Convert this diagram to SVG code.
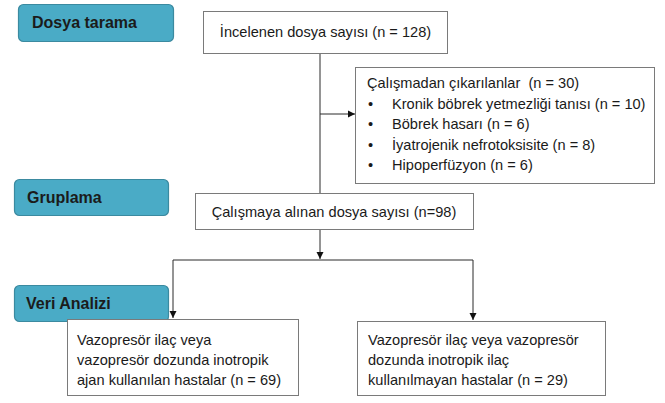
<svg xmlns="http://www.w3.org/2000/svg" width="665" height="403" viewBox="0 0 665 403">
<style>
.stage rect{fill:#4aabc6;stroke:#3b8aa0;stroke-width:1.2}
.stage text{font-family:"Liberation Sans",Arial,sans-serif;font-weight:bold;font-size:16px;fill:#1b1b1b}
.box rect{fill:#fff;stroke:#7a7a7a;stroke-width:1}
.box text{font-family:"Liberation Sans",Arial,sans-serif;font-size:14.6px;fill:#1a1a1a}
.conn path{fill:none;stroke:#2a2a2a;stroke-width:1}
</style>
<defs>
<marker id="ah" markerWidth="8" markerHeight="8" refX="7" refY="4" orient="auto" markerUnits="userSpaceOnUse">
<path d="M0,0.5 L7,4 L0,7.5 Z" fill="#111"/>
</marker>
</defs>
<rect width="665" height="403" fill="#fff"/>
<g class="conn">
<path d="M320,53 V193"/>
<path d="M320,114 H355" marker-end="url(#ah)"/>
<path d="M320,229 V259" marker-end="url(#ah)"/>
<path d="M173,260 H473"/>
<path d="M173,260 V318" marker-end="url(#ah)"/>
<path d="M473,260 V320" marker-end="url(#ah)"/>
</g>
<g id="stage-dosya" class="stage"><rect x="18.5" y="4.5" width="155" height="37" rx="5"/><text x="32" y="28">Dosya tarama</text></g>
<g id="stage-gruplama" class="stage"><rect x="14.5" y="179.5" width="154" height="36" rx="5"/><text x="27" y="203">Gruplama</text></g>
<g id="stage-veri" class="stage"><rect x="14.5" y="285.5" width="154" height="36" rx="5"/><text x="26" y="309">Veri Analizi</text></g>
<g id="box-incelenen" class="box"><rect x="203.5" y="11.5" width="244" height="42"/><text x="325.5" y="37" text-anchor="middle">İncelenen dosya sayısı (n = 128)</text></g>
<g id="box-cikarilan" class="box"><rect x="355.5" y="67.5" width="299" height="116"/>
<text x="367" y="88" xml:space="preserve">Çalışmadan çıkarılanlar  (n = 30)</text>
<text x="368" y="108.5">•</text><text x="392" y="108.5">Kronik böbrek yetmezliği tanısı (n = 10)</text>
<text x="368" y="129">•</text><text x="392" y="129">Böbrek hasarı (n = 6)</text>
<text x="368" y="149.5">•</text><text x="392" y="149.5">İyatrojenik nefrotoksisite (n = 8)</text>
<text x="368" y="170">•</text><text x="392" y="170">Hipoperfüzyon (n = 6)</text>
</g>
<g id="box-alinan" class="box"><rect x="195.5" y="193.5" width="278" height="36"/><text x="334" y="217" text-anchor="middle">Çalışmaya alınan dosya sayısı (n=98)</text></g>
<g id="box-left" class="box"><rect x="67.5" y="319.5" width="231" height="76"/>
<text x="77" y="345">Vazopresör ilaç veya</text>
<text x="77" y="365">vazopresör dozunda inotropik</text>
<text x="77" y="385">ajan kullanılan hastalar (n = 69)</text>
</g>
<g id="box-right" class="box"><rect x="357.5" y="321.5" width="248" height="74"/>
<text x="368" y="345">Vazopresör ilaç veya vazopresör</text>
<text x="368" y="365">dozunda inotropik ilaç</text>
<text x="368" y="385">kullanılmayan hastalar (n = 29)</text>
</g>
</svg>
